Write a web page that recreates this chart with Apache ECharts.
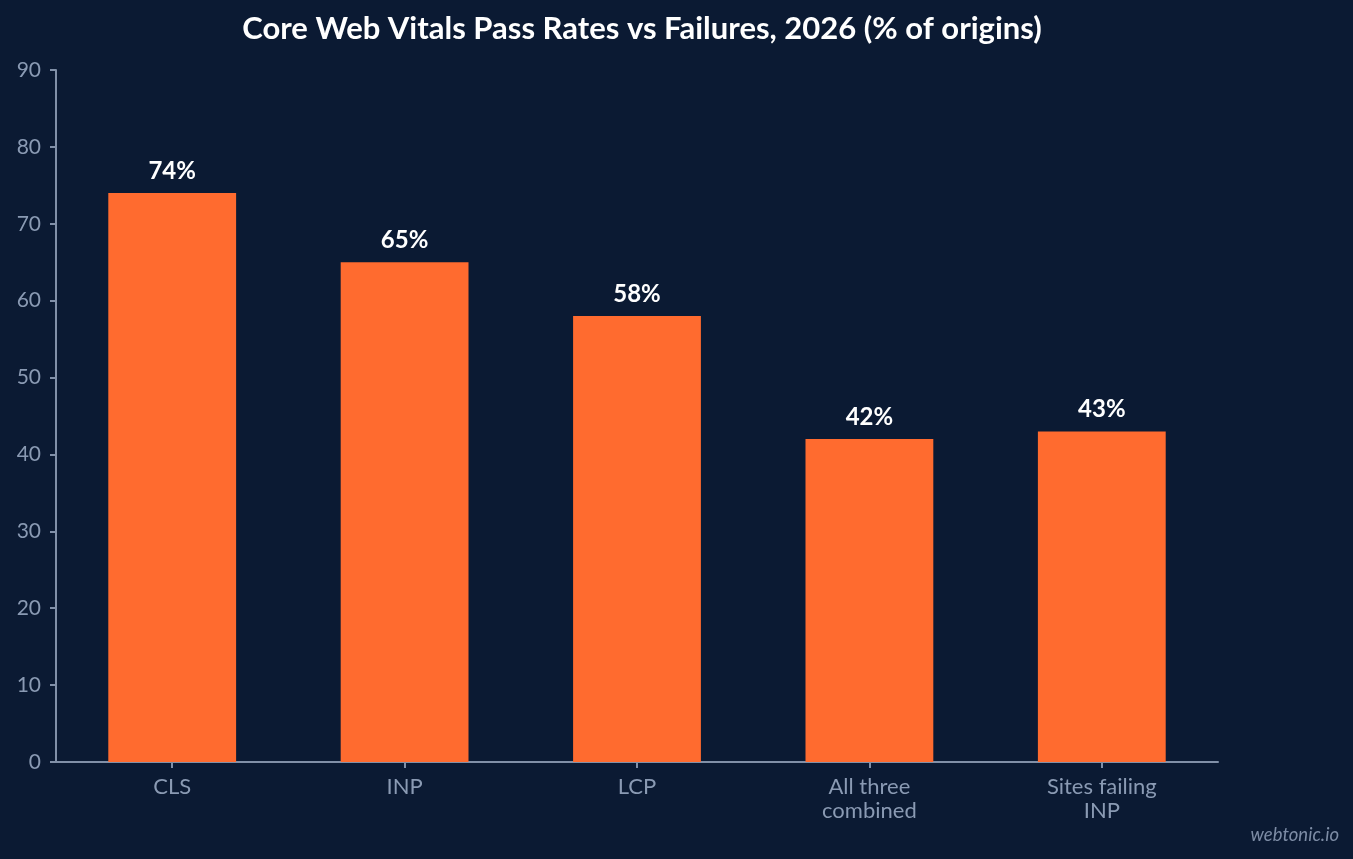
<!DOCTYPE html>
<html>
<head>
<meta charset="utf-8">
<script src="https://cdn.jsdelivr.net/npm/echarts@6/dist/echarts.min.js"></script>
<style>
  html, body { margin: 0; padding: 0; background: #0b1a33; }
  #chart { width: 1353px; height: 859px; }
</style>
</head>
<body>
<div id="chart"></div>
<script>
var categories = ["CLS", "INP", "LCP", "All three\ncombined", "Sites failing\nINP"];
var passRates = [74, 65, 58, 42, 43];
var yTicks = [0, 10, 20, 30, 40, 50, 60, 70, 80, 90];

var myChart = echarts.init(document.getElementById("chart"), null, { renderer: "canvas" });

var axisColor = "#8190a8";
var labelColor = "#8a9ab3";

var option = {
  backgroundColor: "#0b1a33",
  textStyle: { fontFamily: "Lato" },
  title: {
    text: "Core Web Vitals Pass Rates vs Failures, 2026 (% of origins)",
    left: 637,
    top: 8,
    textAlign: "center",
    textStyle: { color: "#ffffff", fontSize: 31, fontWeight: "bold", fontFamily: "Lato" }
  },
  grid: { left: 56, right: 135, top: 70, bottom: 97, containLabel: false },
  xAxis: {
    type: "category",
    data: categories,
    axisLine: { show: true, lineStyle: { color: axisColor, width: 2 } },
    axisTick: { show: true, alignWithLabel: true, length: 6, lineStyle: { color: axisColor, width: 2 } },
    axisLabel: { color: labelColor, fontSize: 22, lineHeight: 24, margin: 13, fontFamily: "Lato" }
  },
  yAxis: {
    type: "value",
    min: yTicks[0],
    max: yTicks[yTicks.length - 1],
    interval: 10,
    splitLine: { show: false },
    axisLine: { show: true, lineStyle: { color: axisColor, width: 2 } },
    axisTick: { show: true, length: 6, lineStyle: { color: axisColor, width: 2 } },
    axisLabel: { color: labelColor, fontSize: 21, margin: 15, fontFamily: "Lato" }
  },
  series: [
    {
      type: "bar",
      data: passRates,
      barWidth: "55%",
      itemStyle: { color: "#ff6b2f" },
      label: {
        show: true,
        position: "top",
        distance: 10,
        formatter: "{c}%",
        color: "#ffffff",
        fontSize: 24,
        fontWeight: "bold",
        fontFamily: "Lato"
      }
    }
  ],
  graphic: [
    {
      type: "text",
      right: 14,
      bottom: 14,
      style: {
        text: "webtonic.io",
        fill: "#7d8ca5",
        font: "italic 18.5px Lato"
      }
    }
  ]
};

myChart.setOption(option);
window.addEventListener("resize", myChart.resize);
</script>
</body>
</html>
